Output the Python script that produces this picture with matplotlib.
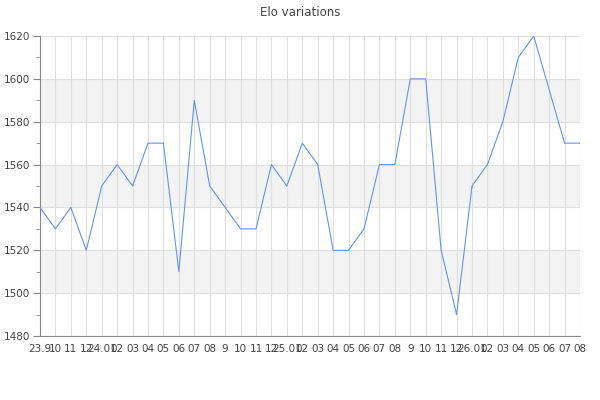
import matplotlib
matplotlib.use('Agg')
import matplotlib.pyplot as plt
from matplotlib.ticker import MultipleLocator

labels = ['23.9', '10', '11', '12',
          '24.01', '02', '03', '04', '05', '06', '07', '08', '9', '10', '11', '12',
          '25.01', '02', '03', '04', '05', '06', '07', '08', '9', '10', '11', '12',
          '26.01', '02', '03', '04', '05', '06', '07', '08']
elo = [1540, 1530, 1540, 1520, 1550, 1560, 1550, 1570, 1570, 1510,
       1590, 1550, 1540, 1530, 1530, 1560, 1550, 1570, 1560, 1520,
       1520, 1530, 1560, 1560, 1600, 1600, 1520, 1490, 1550, 1560,
       1580, 1610, 1620, 1595, 1570, 1570]


def main():
    fig = plt.figure(figsize=(6, 4), dpi=100)
    ax = fig.add_axes([40 / 600, 64 / 400, 540 / 600, 300 / 400])

    x = list(range(len(elo)))
    ax.plot(x, elo, color='#6495ED', linewidth=0.8, zorder=3)

    ax.set_xlim(0, len(elo) - 1)
    ax.set_ylim(1480, 1620)

    # alternating bands
    for lo in range(1500, 1620, 40):
        ax.axhspan(lo, lo + 20, color='#f3f3f3', zorder=0, lw=0)

    ax.set_xticks(x)
    ax.set_xticklabels(labels)
    ax.yaxis.set_major_locator(MultipleLocator(20))
    ax.yaxis.set_minor_locator(MultipleLocator(10))
    ax.grid(True, which='major', color='#e0e0e0', linewidth=0.8, zorder=1)
    ax.set_axisbelow(True)

    for s in ['top', 'right']:
        ax.spines[s].set_visible(False)
    for s in ['left', 'bottom']:
        ax.spines[s].set_color('#888888')
        ax.spines[s].set_linewidth(0.8)

    ax.tick_params(axis='x', length=0, pad=6, labelsize=7.5, labelcolor='#444444')
    ax.tick_params(axis='y', which='major', length=5, color='#888888',
                   labelsize=7.5, labelcolor='#444444', pad=2)
    ax.tick_params(axis='y', which='minor', length=3, color='#888888')

    fig.text(0.5, 1 - 12 / 400, 'Elo variations', ha='center', va='center',
             fontsize=8.5, color='#444444')

    fig.savefig('out.png', dpi=100)


if __name__ == '__main__':
    main()
